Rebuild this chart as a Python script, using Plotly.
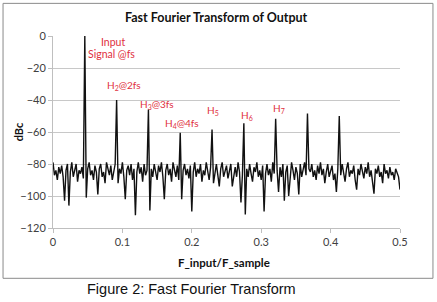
import plotly.graph_objects as go

# ---- data ----
n_bins = 480  # x = i / n_bins, i = 0..240
noise_db = [
    -79, -87, -84, -90, -82, -86, -81, -88, -103, -84, -80, -106, -85, -79, -88, -83, -80, -91, -84, -86,
    -82, -89, -84, -101, -83, -79, -87, -84, -90, -81, -85, -99, -83, -80, -88, -85, -92, -79, -84, -87,
    -81, -90, -85, -80, -86, -92, -83, -86, -79, -88, -102, -84, -81, -87, -80, -90, -83, -112, -85, -79,
    -86, -82, -91, -80, -87, -84, -86, -109, -83, -88, -80, -86, -90, -81, -85, -79, -88, -102, -84, -80,
    -87, -83, -91, -79, -85, -88, -81, -90, -85, -102, -84, -80, -87, -83, -89, -81, -109.6, -85, -79, -88,
    -83, -86, -80, -91, -84, -87, -79, -85, -90, -82, -84, -92, -84, -80, -87, -94, -83, -79, -88, -85,
    -81, -89, -84, -80, -94, -86, -82, -88, -79, -85, -104, -87, -84, -111.5, -83, -88, -80, -86, -91, -82,
    -85, -79, -88, -84, -90, -81, -109.6, -86, -80, -87, -83, -91, -79, -86, -84, -84, -97.5, -82, -88, -80,
    -103, -85, -81, -100, -87, -79, -84, -90, -82, -86, -99, -80, -88, -84, -79, -87, -85, -83, -85, -80,
    -88, -84, -90, -81, -86, -79, -87, -83, -92, -85, -80, -88, -84, -81, -90, -86, -97.5, -83, -86, -87,
    -80, -85, -91, -83, -79, -88, -84, -86, -81, -90, -96, -83, -87, -80, -85, -89, -82, -86, -79, -88,
    -84, -90, -98.5, -83, -86, -81, -88, -85, -92, -80, -86, -84, -89, -82, -87, -85, -90, -83, -86, -88,
    -96,
]
peak_bins = [22, 44, 66, 88, 110, 132, 154, 176, 198]
peak_db = [0, -40, -46, -60.5, -58.5, -54.6, -51.7, -48.5, -50]

x_ticks = [0, 0.1, 0.2, 0.3, 0.4, 0.5]
x_ticktext = ["0", "0.1", "0.2", "0.3", "0.4", "0.5"]
y_ticks = [0, -20, -40, -60, -80, -100, -120]

labels = ["Input", "Signal @fs", "H<sub>2</sub>@2fs", "H<sub>3</sub>@3fs", "H<sub>4</sub>@4fs",
          "H<sub>5</sub>", "H<sub>6</sub>", "H<sub>7</sub>"]
label_size = [10.5, 10.5, 10, 10, 10, 10, 10, 10]
label_x = [0.0866, 0.0843, 0.1023, 0.1499, 0.1859, 0.2305, 0.2795, 0.3256]
label_y = [-4, -11.5, -31, -42.5, -54.5, -46.5, -49.5, -45.5]

# ---- build ----
db = list(noise_db)
for b, v in zip(peak_bins, peak_db):
    db[b] = v
xs = [i / n_bins for i in range(len(db))]

fig = go.Figure()
fig.add_trace(go.Scatter(x=xs, y=db, mode="lines",
                         line=dict(color="#111111", width=1.4), showlegend=False,
                         hoverinfo="skip"))

red = "#e0303e"
for t, lx, ly, fs in zip(labels, label_x, label_y, label_size):
    fig.add_annotation(x=lx, y=ly, text=t, showarrow=False, xanchor="center", yanchor="middle",
                       font=dict(family="Lato", size=fs, color=red))

# chart frame
fig.add_shape(type="rect", xref="paper", yref="paper",
              x0=-0.144, x1=1.095, y0=-0.262, y1=1.17,
              line=dict(color="#8a8a8a", width=1), fillcolor="rgba(0,0,0,0)", layer="below")

fig.add_annotation(xref="paper", yref="paper", x=0.472, y=1.095, text="<b>Fast Fourier Transform of Output</b>",
                   showarrow=False, xanchor="center", yanchor="middle",
                   font=dict(family="Lato", size=12.5, color="#111111"))
fig.add_annotation(xref="paper", yref="paper", x=0.492, y=-0.178, text="<b>F_input/F_sample</b>",
                   showarrow=False, xanchor="center", yanchor="middle",
                   font=dict(family="Lato", size=11.5, color="#111111"))
fig.add_annotation(xref="paper", yref="paper", x=-0.1, y=0.5, text="<b>dBc</b>", textangle=-90,
                   showarrow=False, xanchor="center", yanchor="middle",
                   font=dict(family="Lato", size=11, color="#111111"))
fig.add_annotation(xref="paper", yref="paper", x=0.398, y=-0.32, text="Figure 2: Fast Fourier Transform",
                   showarrow=False, xanchor="center", yanchor="middle",
                   font=dict(family="Liberation Sans", size=14.5, color="#111111"))

fig.update_layout(
    width=437, height=302,
    margin=dict(l=53, r=37, t=36, b=74),
    paper_bgcolor="white", plot_bgcolor="white",
    font=dict(family="Lato", size=11, color="#404040"),
    xaxis=dict(range=[0, 0.5], tickvals=x_ticks, ticktext=x_ticktext, showgrid=False,
               zeroline=False, showline=True, linecolor="#bfbfbf", linewidth=1,
               ticks="outside", ticklen=4, tickcolor="#bfbfbf", tickfont=dict(size=11, color="#404040")),
    yaxis=dict(range=[-120, 0], tickvals=y_ticks, showgrid=True, gridcolor="#c8c8c8", gridwidth=1,
               zeroline=False, showline=True, linecolor="#bfbfbf", linewidth=1,
               ticks="outside", ticklen=4, tickcolor="#bfbfbf", tickfont=dict(size=11, color="#404040")),
)

fig.write_html("out.html")
